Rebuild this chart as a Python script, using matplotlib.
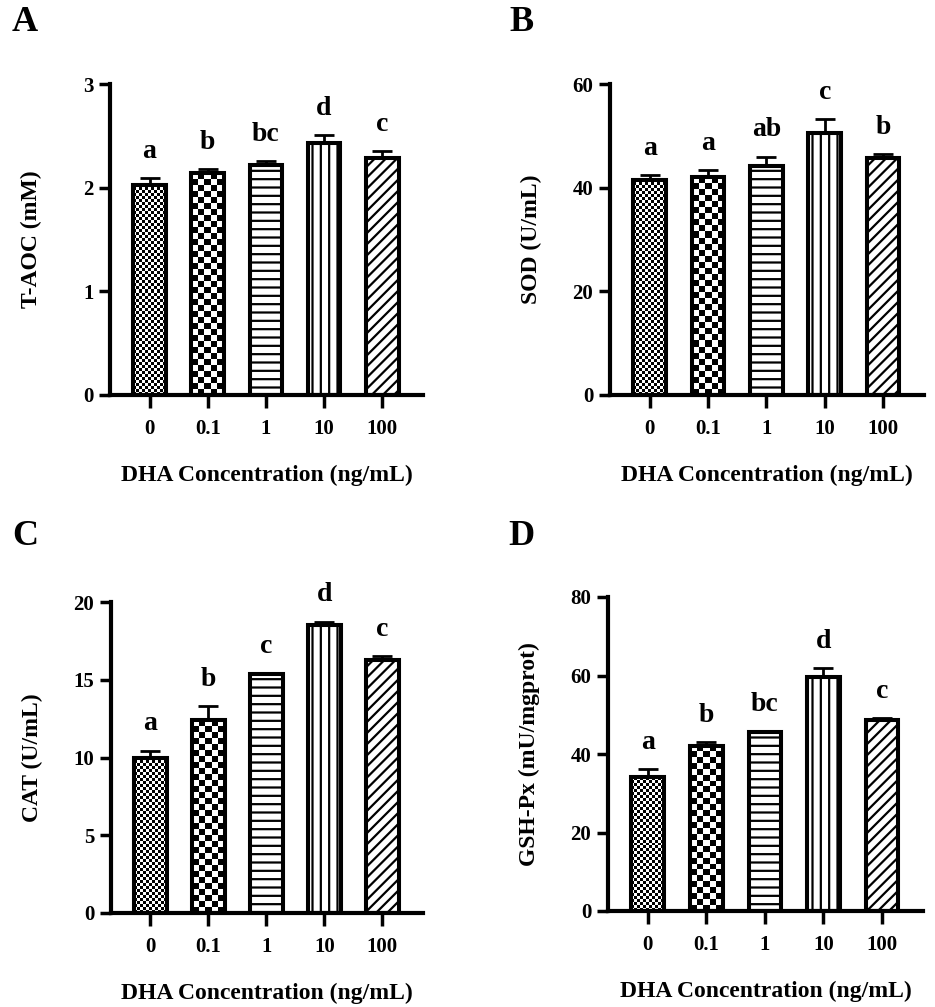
import numpy as np
import matplotlib
matplotlib.use("Agg")
import matplotlib.pyplot as plt

plt.rcParams['font.family'] = ['Liberation Serif', 'DejaVu Serif']
plt.rcParams['font.weight'] = 'bold'
plt.rcParams['hatch.linewidth'] = 1.6

categories = ['0', '0.1', '1', '10', '100']
xlabel = 'DHA Concentration (ng/mL)'

taoc_mean = [2.03, 2.14, 2.22, 2.43, 2.29]
taoc_err = [0.06, 0.04, 0.04, 0.08, 0.06]
taoc_sig = ['a', 'b', 'bc', 'd', 'c']

sod_mean = [41.5, 42.0, 44.1, 50.5, 45.7]
sod_err = [0.9, 1.4, 1.9, 2.7, 0.8]
sod_sig = ['a', 'a', 'ab', 'c', 'b']

cat_mean = [10.0, 12.4, 15.35, 18.5, 16.25]
cat_err = [0.45, 0.93, 0.1, 0.24, 0.28]
cat_sig = ['a', 'b', 'c', 'd', 'c']

gsh_mean = [34.1, 42.1, 45.5, 59.6, 48.6]
gsh_err = [2.0, 0.9, 0.45, 2.2, 0.5]
gsh_sig = ['a', 'b', 'bc', 'd', 'c']

panels = [
    dict(letter='A', ylabel='T-AOC (mM)', mean=taoc_mean, err=taoc_err, sig=taoc_sig,
         ymax=3, yticks=[0, 1, 2, 3], rect=(110, 84, 423, 395), lpos=(12, 31)),
    dict(letter='B', ylabel='SOD (U/mL)', mean=sod_mean, err=sod_err, sig=sod_sig,
         ymax=60, yticks=[0, 20, 40, 60], rect=(610, 84, 924, 395), lpos=(509, 31)),
    dict(letter='C', ylabel='CAT (U/mL)', mean=cat_mean, err=cat_err, sig=cat_sig,
         ymax=20, yticks=[0, 5, 10, 15, 20], rect=(111, 602, 423, 913), lpos=(12, 545)),
    dict(letter='D', ylabel='GSH-Px (mU/mgprot)', mean=gsh_mean, err=gsh_err, sig=gsh_sig,
         ymax=80, yticks=[0, 20, 40, 60, 80], rect=(608, 597, 923, 911), lpos=(508, 545)),
]

W, H = 935, 1007
fig = plt.figure(figsize=(W / 100, H / 100), dpi=100)

hatches = [None, None, '--', '||', '///']
checker_cells = {0: 3.0, 1: 6.0}  # pixel size of checker cells
bar_w = 0.56
edge_lw = 2.9
xlim = (-0.68, 4.7)

for p in panels:
    l, t, r, b = p['rect']
    ax = fig.add_axes([l / W, 1 - b / H, (r - l) / W, (b - t) / H])
    x = np.arange(len(categories))
    ax.set_xlim(*xlim)
    ax.set_ylim(0, p['ymax'])
    px_x = (r - l) / (xlim[1] - xlim[0])
    px_y = (b - t) / p['ymax']

    bars = ax.bar(x, p['mean'], width=bar_w, color='white', edgecolor='black',
                  linewidth=edge_lw, zorder=1)
    for i, bar in enumerate(bars):
        if hatches[i]:
            bar.set_hatch(hatches[i])
        if i in checker_cells:
            cell = checker_cells[i]
            x0, w, h = bar.get_x(), bar.get_width(), bar.get_height()
            nx = max(1, int(round(w * px_x / cell)))
            ny = max(1, int(round(h * px_y / cell)))
            board = np.indices((ny, nx)).sum(axis=0) % 2
            im = ax.imshow(board, extent=(x0, x0 + w, 0, h), cmap='gray_r',
                           interpolation='nearest', aspect='auto', zorder=2,
                           vmin=0, vmax=1)
            im.set_clip_path(bar)
    ax.set_aspect('auto')
    ax.set_xlim(*xlim)
    ax.set_ylim(0, p['ymax'])

    ax.errorbar(x, p['mean'], yerr=[np.zeros(len(x)), p['err']], fmt='none',
                ecolor='black', elinewidth=2.0, capsize=7.2, capthick=2.0, zorder=2.5)
    ax.bar(x, p['mean'], width=bar_w, fill=False, edgecolor='black',
           linewidth=edge_lw, zorder=3)

    for xi, m, e, s in zip(x, p['mean'], p['err'], p['sig']):
        ax.annotate(s, (xi, m + e), xytext=(0, 14.5), textcoords='offset points',
                    ha='center', va='baseline', fontsize=20, fontweight='bold')

    for side in ['top', 'right']:
        ax.spines[side].set_visible(False)
    for side in ['left', 'bottom']:
        ax.spines[side].set_linewidth(3.0)
    ax.set_xticks(x)
    ax.set_xticklabels(categories)
    ax.set_yticks(p['yticks'])
    ax.tick_params(axis='y', length=8, width=2.5, pad=4, labelsize=15)
    ax.tick_params(axis='x', length=9, width=2.5, pad=8, labelsize=15)
    for lab in ax.get_xticklabels() + ax.get_yticklabels():
        lab.set_fontweight('bold')
    ax.set_ylabel(p['ylabel'], fontsize=17, fontweight='bold')
    ax.yaxis.set_label_coords(-68.0 / (r - l), 0.5)
    ax.set_xlabel(xlabel, fontsize=17, fontweight='bold', labelpad=19)

    fig.text(p['lpos'][0] / W, 1 - p['lpos'][1] / H, p['letter'], fontsize=26,
             fontweight='bold', ha='left', va='baseline')

fig.savefig('out.png', dpi=100)
